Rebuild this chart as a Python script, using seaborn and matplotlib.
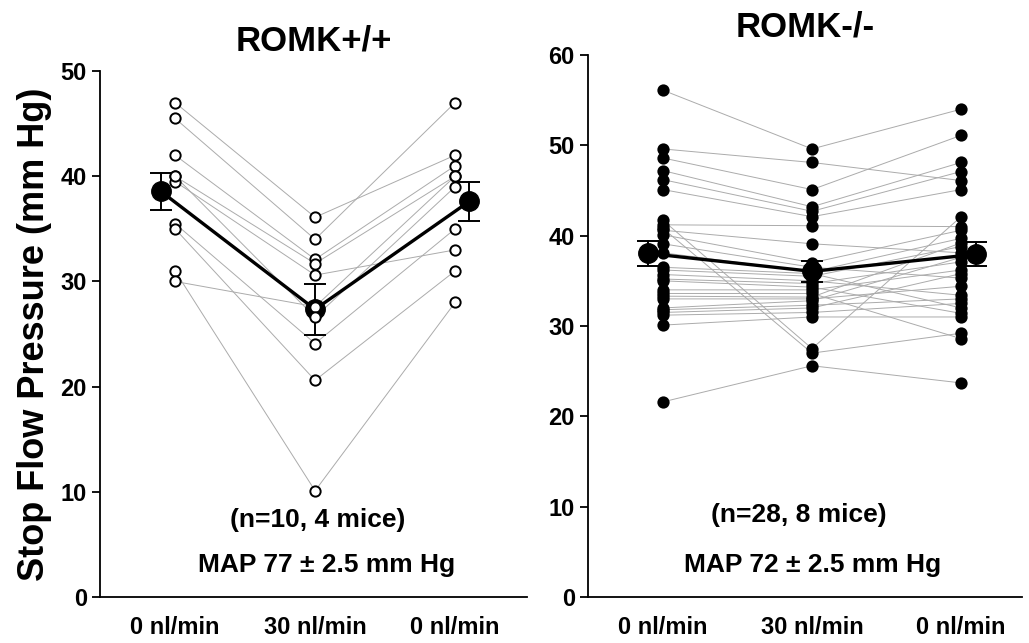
import pandas as pd
import matplotlib.pyplot as plt
import seaborn as sns

conditions = ["0 nl/min", "30 nl/min", "0 nl/min"]

# ROMK+/+ : one value per tubule, same tubule order in every list
wt_pre = [47.0, 45.5, 42.0, 40.0, 39.5, 35.5, 35.0, 31.0, 30.0, 40.0]
wt_flow = [36.1, 34.0, 32.1, 31.7, 30.6, 24.1, 20.6, 10.1, 27.6, 26.6]
wt_post = [42.0, 47.0, 41.0, 40.0, 33.0, 35.0, 31.0, 28.0, 40.0, 39.0]

# ROMK-/-
ko_pre = [56.1, 49.6, 48.6, 47.2, 46.2, 45.1, 41.7, 41.2, 40.8, 40.6,
          40.1, 39.1, 38.1, 36.5, 36.2, 35.7, 35.2, 35.0, 34.0, 33.6,
          33.3, 33.0, 32.0, 31.8, 31.5, 31.2, 30.1, 21.6]
ko_flow = [49.6, 48.1, 45.1, 43.2, 42.7, 42.1, 27.5, 41.1, 27.0, 39.1,
           37.0, 36.5, 36.0, 35.8, 35.5, 35.0, 34.7, 34.3, 34.0, 33.6,
           33.2, 33.0, 32.8, 32.3, 32.0, 31.5, 31.0, 25.6]
ko_post = [54.0, 46.1, 51.1, 48.1, 47.1, 45.1, 42.1, 41.0, 29.2, 38.1,
           40.6, 35.3, 39.7, 32.0, 38.8, 33.4, 37.1, 31.4, 36.2, 28.6,
           39.2, 34.4, 37.6, 33.0, 35.8, 32.5, 31.0, 23.7]

mean_shift = [-0.1, 0.0, 0.1]


def long_frame(pre, flow, post):
    rows = []
    for step, vals in enumerate([pre, flow, post]):
        for subj, v in enumerate(vals):
            rows.append({"subject": subj, "step": step,
                         "mean_x": step + mean_shift[step], "value": v})
    return pd.DataFrame(rows)


sns.set_style("ticks")
plt.rcParams["font.family"] = ["Liberation Sans", "DejaVu Sans"]
plt.rcParams["font.weight"] = "bold"
for key in ["text.color", "axes.labelcolor", "xtick.color", "ytick.color", "axes.edgecolor"]:
    plt.rcParams[key] = "black"

fig = plt.figure(figsize=(10.29, 6.43), dpi=100)
ax1 = fig.add_axes([0.0972, 0.0715, 0.415, 0.818])
ax2 = fig.add_axes([0.5714, 0.0715, 0.422, 0.843])


def draw(ax, pre, flow, post, face):
    df = long_frame(pre, flow, post)
    sns.lineplot(data=df, x="step", y="value", units="subject", estimator=None,
                 color="#ababab", lw=0.7, ax=ax, legend=False, zorder=1)
    sns.lineplot(data=df, x="mean_x", y="value", errorbar="se", err_style="bars",
                 color="black", lw=2.4, marker="o", markersize=14,
                 mec="black", mew=1, ax=ax, legend=False, zorder=3,
                 err_kws={"capsize": 8, "elinewidth": 1.4, "capthick": 1.4})
    sns.scatterplot(data=df, x="step", y="value", s=55, color=face,
                    edgecolor="black", linewidth=1.4, ax=ax, legend=False, zorder=4)


draw(ax1, wt_pre, wt_flow, wt_post, "white")
draw(ax2, ko_pre, ko_flow, ko_post, "black")

ax1.set_xlim(-0.536, 2.514)
ax1.set_ylim(0, 50)
ax1.set_yticks(range(0, 51, 10))
ax2.set_xlim(-0.503, 2.41)
ax2.set_ylim(0, 60)
ax2.set_yticks(range(0, 61, 10))

for ax in (ax1, ax2):
    sns.despine(ax=ax)
    ax.spines["left"].set_linewidth(1.3)
    ax.spines["bottom"].set_linewidth(1.3)
    ax.set_xticks([0, 1, 2])
    ax.set_xticklabels(conditions)
    ax.tick_params(axis="x", length=0, pad=14, labelsize=17)
    ax.tick_params(axis="y", length=6, width=1.3, labelsize=17)
    for lab in ax.get_xticklabels() + ax.get_yticklabels():
        lab.set_fontweight("bold")
    ax.set_xlabel("")
    ax.set_ylabel("")

ax1.set_ylabel("Stop Flow Pressure (mm Hg)", fontsize=26, fontweight="bold", labelpad=6)
ax1.set_title("ROMK+/+", fontsize=25, fontweight="bold", pad=15)
ax2.set_title("ROMK-/-", fontsize=25, fontweight="bold", pad=13)

ax1.text(0.51, 0.146, "(n=10, 4 mice)", transform=ax1.transAxes, ha="center",
         va="center", fontsize=19, fontweight="bold")
ax1.text(0.53, 0.061, "MAP 77 \u00b1 2.5 mm Hg", transform=ax1.transAxes, ha="center",
         va="center", fontsize=19, fontweight="bold")
ax2.text(0.486, 0.151, "(n=28, 8 mice)", transform=ax2.transAxes, ha="center",
         va="center", fontsize=19, fontweight="bold")
ax2.text(0.518, 0.059, "MAP 72 \u00b1 2.5 mm Hg", transform=ax2.transAxes, ha="center",
         va="center", fontsize=19, fontweight="bold")

fig.savefig("out.png", dpi=100)
